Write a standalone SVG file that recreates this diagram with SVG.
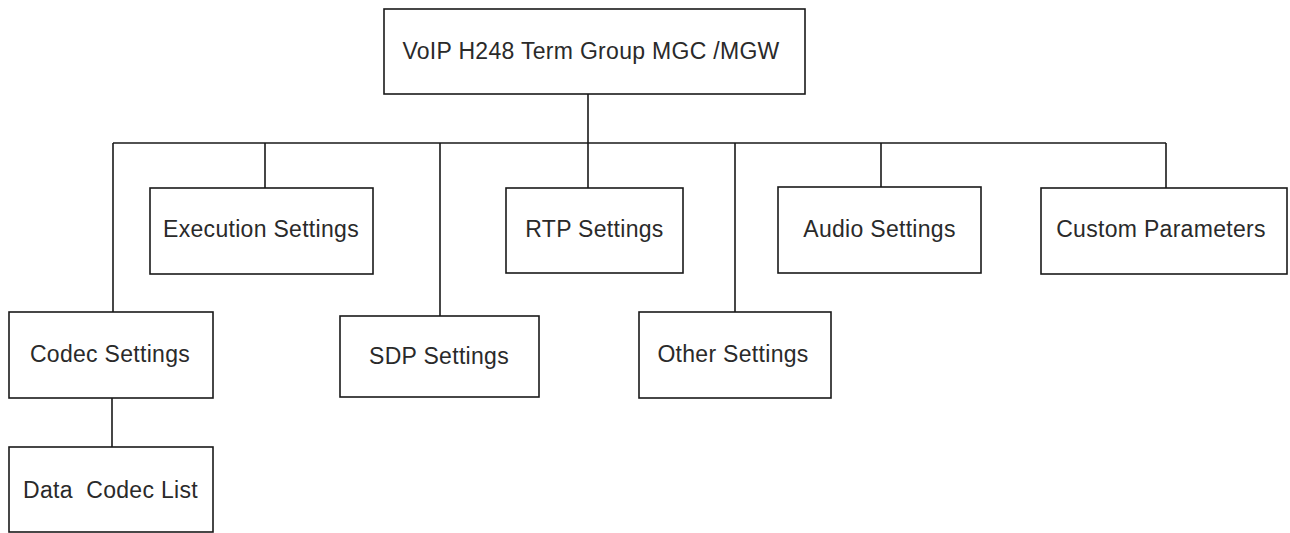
<svg xmlns="http://www.w3.org/2000/svg" width="1290" height="533" viewBox="0 0 1290 533">
<style>
.box{fill:#fff;stroke:#1a1a1a;stroke-width:1.6}
.lbl{font-family:"Liberation Sans",Arial,sans-serif;font-size:23px;fill:#2a2a2a;text-anchor:middle;white-space:pre;letter-spacing:0.3px}
.con{fill:none;stroke:#1a1a1a;stroke-width:1.6}
</style>
<rect width="1290" height="533" fill="#fff"/>
<g id="connectors">
<path class="con" d="M588 94V143M113 143H1166M113 143V312M265 143V188M440 143V316M588 143V188M735 143V312M881 143V187M1166 143V188M112 398V447"/>
</g>
<g id="root"><rect class="box" x="384" y="9" width="421" height="85"/><text class="lbl" x="591" y="59">VoIP H248 Term Group MGC /MGW</text></g>
<g id="execution"><rect class="box" x="150" y="188" width="223" height="86"/><text class="lbl" x="261" y="237">Execution Settings</text></g>
<g id="rtp"><rect class="box" x="506" y="188" width="177" height="85"/><text class="lbl" x="594.5" y="237">RTP Settings</text></g>
<g id="audio"><rect class="box" x="778" y="187" width="203" height="86"/><text class="lbl" x="879.5" y="237">Audio Settings</text></g>
<g id="custom"><rect class="box" x="1041" y="188" width="246" height="86"/><text class="lbl" x="1161" y="237">Custom Parameters</text></g>
<g id="codec"><rect class="box" x="9" y="312" width="204" height="86"/><text class="lbl" x="110" y="362">Codec Settings</text></g>
<g id="sdp"><rect class="box" x="340" y="316" width="199" height="81"/><text class="lbl" x="439" y="364">SDP Settings</text></g>
<g id="other"><rect class="box" x="639" y="312" width="192" height="86"/><text class="lbl" x="733" y="362">Other Settings</text></g>
<g id="data"><rect class="box" x="9" y="447" width="204" height="85"/><text class="lbl" x="110.5" y="498" xml:space="preserve">Data  Codec List</text></g>
</svg>
